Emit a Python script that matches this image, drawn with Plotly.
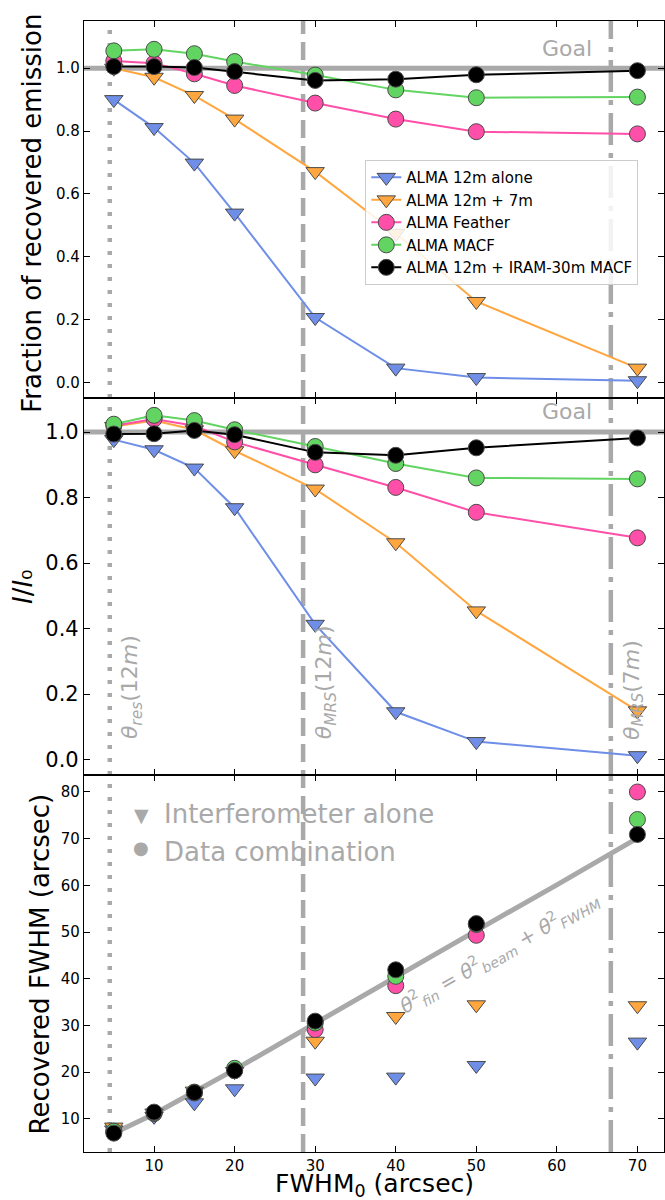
import plotly.graph_objects as go
from plotly.subplots import make_subplots

fwhm0 = [5, 10, 15, 20, 30, 40, 50, 70]

# Panel 1: fraction of recovered emission
frac_12m = [0.90, 0.811, 0.698, 0.539, 0.207, 0.046, 0.016, 0.006]
frac_12m7m = [1.0, 0.971, 0.913, 0.838, 0.671, 0.475, 0.258, 0.046]
frac_feather = [1.023, 1.016, 0.982, 0.945, 0.889, 0.838, 0.798, 0.791]
frac_macf = [1.055, 1.06, 1.046, 1.021, 0.978, 0.931, 0.906, 0.908]
frac_iram = [1.005, 1.005, 1.002, 0.989, 0.961, 0.965, 0.979, 0.992]

# Panel 2: I/I0
peak_12m = [0.977, 0.946, 0.89, 0.769, 0.413, 0.146, 0.055, 0.012]
peak_12m7m = [1.017, 1.035, 1.007, 0.943, 0.826, 0.662, 0.454, 0.149]
peak_feather = [1.019, 1.04, 1.019, 0.97, 0.90, 0.831, 0.755, 0.677]
peak_macf = [1.024, 1.051, 1.035, 1.007, 0.956, 0.904, 0.86, 0.857]
peak_iram = [0.994, 0.995, 1.005, 0.992, 0.938, 0.929, 0.952, 0.982]

# Panel 3: recovered FWHM (arcsec)
fw_12m = [7.6, 10.5, 13.4, 16.4, 18.7, 18.9, 21.4, 26.4]
fw_12m7m = [8.2, 11.2, 15.9, 20.1, 26.6, 31.9, 34.4, 34.2]
fw_feather = [7.3, 11.1, 15.5, 20.3, 29.1, 38.5, 49.3, 80.0]
fw_macf = [7.3, 11.2, 15.7, 20.8, 30.5, 40.5, 51.6, 74.1]
fw_iram = [6.9, 11.4, 15.6, 20.3, 30.9, 41.9, 51.8, 70.9]

# Expected relation theta_fin^2 = theta_beam^2 + theta_FWHM^2
model_x = [5, 10, 20, 30, 40, 50, 60, 70]
model_y = [6.9, 11.0, 20.5, 30.5, 40.3, 50.3, 60.1, 70.1]

# Reference scales (arcsec)
theta_res_12m = 4.5
theta_mrs_12m = 28.5
theta_mrs_7m = 66.7

names = ["ALMA 12m alone", "ALMA 12m + 7m", "ALMA Feather", "ALMA MACF",
         "ALMA 12m + IRAM-30m MACF"]
colors = ["#6e8ee8", "#ffa63f", "#ff4fa8", "#62d462", "#000000"]
symbols = ["triangle-down", "triangle-down", "circle", "circle", "circle"]

GRAY = "#a9a9a9"
FONT = "DejaVu Sans"

fig = make_subplots(rows=3, cols=1, shared_xaxes=True, vertical_spacing=0)

# model line behind markers
fig.add_trace(go.Scatter(x=model_x, y=model_y, mode="lines",
                         line=dict(color=GRAY, width=5), showlegend=False,
                         hoverinfo="skip"), row=3, col=1)

panels = [
    [frac_12m, frac_12m7m, frac_feather, frac_macf, frac_iram],
    [peak_12m, peak_12m7m, peak_feather, peak_macf, peak_iram],
    [fw_12m, fw_12m7m, fw_feather, fw_macf, fw_iram],
]

for r, series in enumerate(panels, start=1):
    for i, ys in enumerate(series):
        sym = symbols[i]
        fig.add_trace(go.Scatter(
            x=fwhm0, y=ys, name=names[i],
            mode="lines+markers" if r < 3 else "markers",
            line=dict(color=colors[i], width=2),
            marker=dict(symbol=sym, size=16, color=colors[i],
                        line=dict(color="#4a4a4a", width=1)),
            showlegend=(r == 1),
        ), row=r, col=1)

shapes = []
# Goal lines
for yref in ["y", "y2"]:
    shapes.append(dict(type="line", xref="paper", x0=0, x1=1, yref=yref,
                       y0=1.0, y1=1.0, layer="below",
                       line=dict(color=GRAY, width=5)))
# vertical reference lines spanning all panels
for xv, dash in [(theta_res_12m, "4px,9px"), (theta_mrs_12m, "18px,8px"),
                 (theta_mrs_7m, "32px,8px,5px,8px")]:
    shapes.append(dict(type="line", xref="x", x0=xv, x1=xv, yref="paper",
                       y0=0, y1=1, layer="below",
                       line=dict(color=GRAY, width=4.5, dash=dash)))
fig.update_layout(shapes=shapes)

ann = []
for yref in ["y", "y2"]:
    ann.append(dict(text="Goal", x=61.3, y=1.064, xref="x", yref=yref,
                    showarrow=False, font=dict(size=22, color=GRAY, family=FONT),
                    xanchor="center", yanchor="middle"))
for xv, txt in [(7.2, "<i>θ</i><sub><i>res</i></sub>(12<i>m</i>)"),
                (31.3, "<i>θ</i><sub><i>MRS</i></sub>(12<i>m</i>)"),
                (69.5, "<i>θ</i><sub><i>MRS</i></sub>(7<i>m</i>)")]:
    ann.append(dict(text=txt, x=xv, y=0.055, xref="x", yref="y2",
                    showarrow=False, textangle=-90,
                    font=dict(size=22, color=GRAY, family=FONT),
                    xanchor="center", yanchor="bottom"))
ann.append(dict(text="▼", x=8.4, y=75.1, xref="x3", yref="y3", showarrow=False,
                font=dict(size=19, color=GRAY, family=FONT),
                xanchor="center", yanchor="middle"))
ann.append(dict(text="●", x=8.4, y=68.0, xref="x3", yref="y3", showarrow=False,
                font=dict(size=18, color=GRAY, family=FONT),
                xanchor="center", yanchor="middle"))
ann.append(dict(text="Interferometer alone", x=11.0, y=75.3, xref="x3", yref="y3",
                showarrow=False, font=dict(size=26, color=GRAY, family=FONT),
                xanchor="left", yanchor="middle"))
ann.append(dict(text="Data combination", x=11.0, y=67.2, xref="x3", yref="y3",
                showarrow=False, font=dict(size=26, color=GRAY, family=FONT),
                xanchor="left", yanchor="middle"))
ann.append(dict(text="<i>θ</i><sup>2</sup><sub><i>fin</i></sub> = <i>θ</i><sup>2</sup><sub><i>beam</i></sub> + <i>θ</i><sup>2</sup><sub><i>FWHM</i></sub>",
                x=52.9, y=45.6, xref="x3", yref="y3", showarrow=False,
                textangle=-29.5, font=dict(size=20, color=GRAY, family=FONT),
                xanchor="center", yanchor="middle"))

# axis titles as annotations for precise placement
ann.append(dict(text="Fraction of recovered emission", xref="paper", x=-0.0888,
                yref="y domain", y=0.49, textangle=-90, showarrow=False,
                font=dict(size=26, family=FONT, color="black"),
                xanchor="center", yanchor="middle"))
ann.append(dict(text="<i>I</i>/<i>I</i>₀", xref="paper", x=-0.106,
                yref="y2 domain", y=0.5, textangle=-90, showarrow=False,
                font=dict(size=26, family=FONT, color="black"),
                xanchor="center", yanchor="middle"))
ann.append(dict(text="Recovered FWHM (arcsec)", xref="paper", x=-0.0759,
                yref="y3 domain", y=0.5, textangle=-90, showarrow=False,
                font=dict(size=26, family=FONT, color="black"),
                xanchor="center", yanchor="middle"))
ann.append(dict(text="FWHM<sub>0</sub> (arcsec)", xref="paper", x=0.5,
                yref="paper", y=-0.029, showarrow=False,
                font=dict(size=25, family=FONT, color="black"),
                xanchor="center", yanchor="middle"))
fig.update_layout(annotations=ann)

axis_common = dict(showline=True, linecolor="black", linewidth=1.2, mirror="ticks",
                   ticks="inside", ticklen=6, tickwidth=1, tickcolor="black",
                   showgrid=False, zeroline=False)

for r in [1, 2, 3]:
    fig.update_xaxes(range=[1.3, 73.3], tickvals=[10, 20, 30, 40, 50, 60, 70],
                     tickfont=dict(size=15, family=FONT, color="black"),
                     row=r, col=1, **axis_common)

fig.update_yaxes(range=[-0.049, 1.15], tickvals=[0, 0.2, 0.4, 0.6, 0.8, 1.0],
                 tickformat=".1f", tickfont=dict(size=15, family=FONT, color="black"),
                 row=1, col=1, **axis_common)
fig.update_yaxes(range=[-0.047, 1.104], tickvals=[0, 0.2, 0.4, 0.6, 0.8, 1.0],
                 tickformat=".1f", tickfont=dict(size=21, family=FONT, color="black"),
                 row=2, col=1, **axis_common)
fig.update_yaxes(range=[2.86, 83.64], tickvals=[10, 20, 30, 40, 50, 60, 70, 80],
                 tickfont=dict(size=15, family=FONT, color="black"),
                 row=3, col=1, **axis_common)

fig.update_layout(
    width=665, height=1200,
    margin=dict(l=84, r=1, t=21, b=48, autoexpand=False),
    plot_bgcolor="white", paper_bgcolor="white",
    font=dict(family=FONT, color="black"),
    legend=dict(x=0.485, y=0.877, xanchor="left", yanchor="top",
                bgcolor="rgba(255,255,255,0.85)", bordercolor="#cccccc",
                borderwidth=1, font=dict(size=15, family=FONT, color="black"),
                tracegroupgap=0),
)

fig.write_html("out.html")
